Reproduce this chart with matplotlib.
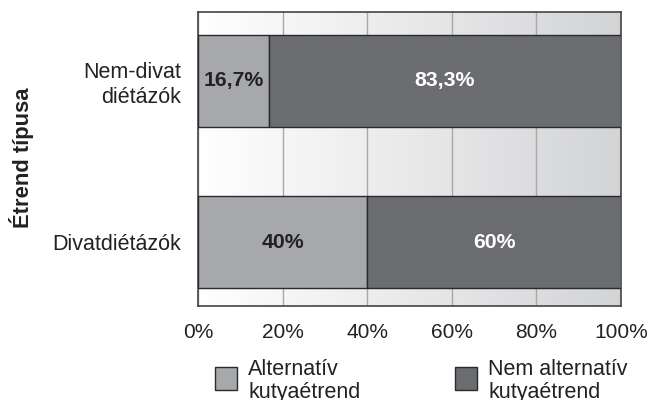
#!/usr/bin/env python3

import numpy as np
import matplotlib.pyplot as plt
from matplotlib.colors import LinearSegmentedColormap
from matplotlib.patches import Rectangle

"""
Étrend típusa vs. kutyaétrend: 100% stacked horizontal bars
"""

categories = ["Divatdiétázók", "Nem-divat\ndiétázók"]
alternativ = [40.0, 16.7]
nem_alternativ = [60.0, 83.3]
labels_alt = ["40%", "16,7%"]
labels_nem = ["60%", "83,3%"]
xticks = [0, 20, 40, 60, 80, 100]
xtick_labels = ["0%", "20%", "40%", "60%", "80%", "100%"]
legend_labels = ["Alternatív\nkutyaétrend", "Nem alternatív\nkutyaétrend"]

light = "#a7a8ab"
dark = "#6b6c70"
edge = "#2a2a2a"


def main():
    plt.rcParams["font.family"] = ["Liberation Sans", "DejaVu Sans"]

    fig = plt.figure(figsize=(6.58, 4.0), dpi=100)
    ax = fig.add_axes([198 / 658, 1 - 306 / 400, 423 / 658, 294 / 400])

    # background: light horizontal gradient
    grad = np.linspace(0, 1, 256).reshape(1, -1)
    cmap = LinearSegmentedColormap.from_list("bg", ["#ffffff", "#d3d4d6"])
    ax.imshow(grad, cmap=cmap, aspect="auto",
              extent=[0, 100, -0.395, 1.427], zorder=0)

    y = np.arange(len(categories))
    h = 0.573
    ax.barh(y, alternativ, height=h, color=light, edgecolor=edge,
            linewidth=1, zorder=3)
    ax.barh(y, nem_alternativ, left=alternativ, height=h, color=dark,
            edgecolor=edge, linewidth=1, zorder=3)

    for i in range(len(categories)):
        ax.text(alternativ[i] / 2, y[i], labels_alt[i], ha="center",
                va="center", fontsize=15.3, fontweight="bold",
                color="#222222", zorder=4)
        ax.text(alternativ[i] + nem_alternativ[i] / 2, y[i], labels_nem[i],
                ha="center", va="center", fontsize=15.3, fontweight="bold",
                color="white", zorder=4)

    ax.set_xlim(0, 100)
    ax.set_ylim(-0.395, 1.427)
    ax.set_xticks(xticks)
    ax.set_xticklabels(xtick_labels, fontsize=15, color="#222222")
    ax.set_yticks(y)
    ax.set_yticklabels(categories, fontsize=15.5, color="#222222",
                       multialignment="right")
    ax.tick_params(axis="both", length=0)
    ax.tick_params(axis="x", pad=12)
    ax.tick_params(axis="y", pad=12)
    ax.grid(axis="x", color="#a8a8a8", linewidth=1, zorder=1)
    ax.set_axisbelow(True)
    for s in ax.spines.values():
        s.set_color("#444444")
        s.set_linewidth(1.2)

    fig.text(22 / 658, 1 - 158 / 400, "Étrend típusa", rotation=90,
             ha="center", va="center", fontsize=15.8, fontweight="bold",
             color="#222222")

    # legend
    colors = [light, dark]
    xs = [215, 455]
    for c, x0, lab in zip(colors, xs, legend_labels):
        fig.patches.append(Rectangle((x0 / 658, 1 - 390 / 400), 22 / 658,
                                     23 / 400, transform=fig.transFigure,
                                     facecolor=c, edgecolor=edge,
                                     linewidth=1))
        fig.text((x0 + 33) / 658, 1 - 375 / 400, lab.split("\n")[0],
                 ha="left", va="baseline", fontsize=15.5, color="#222222")
        fig.text((x0 + 33) / 658, 1 - 398 / 400, lab.split("\n")[1],
                 ha="left", va="baseline", fontsize=15.5, color="#222222")

    plt.savefig("out.png", dpi=100)


if __name__ == "__main__":
    main()
